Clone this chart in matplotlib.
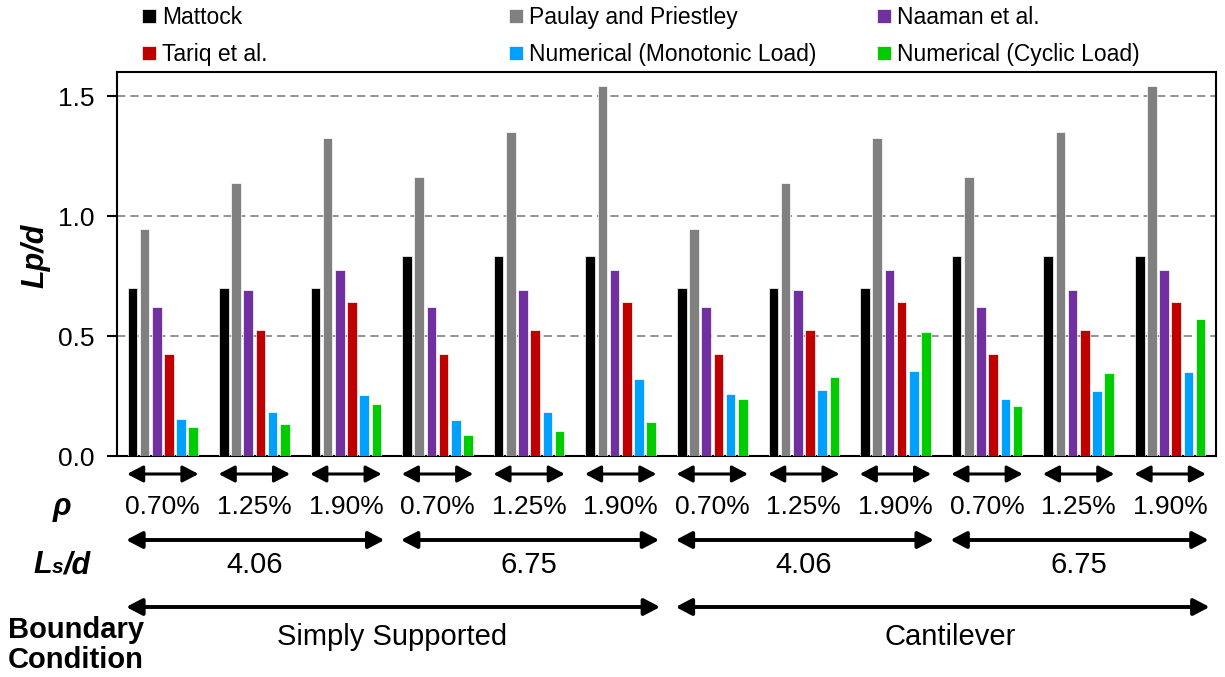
import numpy as np
import matplotlib
matplotlib.use("Agg")
import matplotlib.pyplot as plt
import matplotlib.transforms as mtransforms
from matplotlib.offsetbox import TextArea, HPacker, AnnotationBbox

plt.rcParams['font.family'] = ['Liberation Sans', 'DejaVu Sans']

series = ["Mattock", "Paulay and Priestley", "Naaman et al.",
          "Tariq et al.", "Numerical (Monotonic Load)", "Numerical (Cyclic Load)"]
colors = ["#000000", "#808080", "#7030A0", "#C00000", "#00A0FF", "#00CC00"]

rho = ["0.70%", "1.25%", "1.90%"] * 4
ls_d = ["4.06", "6.75", "4.06", "6.75"]
boundary = ["Simply Supported", "Cantilever"]

mattock = [0.70, 0.70, 0.70, 0.835, 0.835, 0.835, 0.70, 0.70, 0.70, 0.835, 0.835, 0.835]
paulay = [0.947, 1.138, 1.325, 1.164, 1.351, 1.540, 0.947, 1.138, 1.325, 1.164, 1.351, 1.540]
naaman = [0.62, 0.692, 0.775, 0.62, 0.692, 0.775, 0.62, 0.692, 0.775, 0.62, 0.692, 0.775]
tariq = [0.424, 0.524, 0.640, 0.424, 0.524, 0.640, 0.424, 0.524, 0.640, 0.424, 0.524, 0.640]
num_mono = [0.154, 0.183, 0.253, 0.149, 0.182, 0.321, 0.258, 0.276, 0.353, 0.236, 0.269, 0.350]
num_cyc = [0.121, 0.133, 0.215, 0.089, 0.103, 0.140, 0.238, 0.328, 0.515, 0.210, 0.344, 0.569]
values = [mattock, paulay, naaman, tariq, num_mono, num_cyc]

fig = plt.figure(figsize=(12.25, 6.77), dpi=100)
ax = fig.add_axes([117/1225, 1-456/677, (1216-117)/1225, (456-72)/677])

x = np.arange(len(rho))
slot = 0.133
bars = []
for i, (vals, c) in enumerate(zip(values, colors)):
    b = ax.bar(x + (i - 2.5) * slot, vals, width=0.105, color=c,
               edgecolor="white", linewidth=0.5, zorder=3)
    bars.append(b)

ax.set_xlim(-0.5, 11.5)
ax.set_ylim(0, 1.6)
ax.set_yticks([0.0, 0.5, 1.0, 1.5])
ax.set_yticklabels(["0.0", "0.5", "1.0", "1.5"], fontsize=19)
ax.set_xticks([])
ax.yaxis.grid(True, linestyle=(0, (5, 3)), color="#808080", linewidth=1.2)
ax.set_axisbelow(True)
ax.tick_params(axis="y", direction="out", length=7, width=1.5, pad=9)
for s in ax.spines.values():
    s.set_linewidth(1.5)

fig.text(35/1225, 1-256/677, "Lp/d", rotation=90, fontsize=22, fontweight="bold",
         fontstyle="italic", ha="center", va="center")

# legend: three columns placed by hand
cols_x = [142, 509, 877]
for k in range(3):
    fig.legend([bars[k], bars[k + 3]], [series[k], series[k + 3]],
               loc="upper left", bbox_to_anchor=(cols_x[k]/1225, 1-6/677),
               frameon=False, fontsize=16.5, borderpad=0, borderaxespad=0,
               handlelength=0.6, handleheight=0.6, handletextpad=0.28,
               labelspacing=0.62)

blend = mtransforms.blended_transform_factory(ax.transData, fig.transFigure)


def arrow(x0, x1, y, lw):
    ax.annotate("", xy=(x1, y), xytext=(x0, y),
                xycoords=blend, textcoords=blend,
                arrowprops=dict(arrowstyle="<|-|>,head_length=0.8,head_width=0.42",
                                lw=lw, color="black", shrinkA=0, shrinkB=0,
                                mutation_scale=12),
                annotation_clip=False)


y_rho_arrow = 1 - 474/677
y_rho_text = 1 - 507/677
y_ls_arrow = 1 - 540/677
y_ls_text = 1 - 565/677
y_bc_arrow = 1 - 607/677
y_bc_text = 1 - 637/677

for i, r in enumerate(rho):
    arrow(i - 0.39, i + 0.39, y_rho_arrow, 2.2)
    ax.text(i, y_rho_text, r, transform=blend, fontsize=19, ha="center", va="center")

for j, l in enumerate(ls_d):
    arrow(3*j - 0.4, 3*j + 2.42, y_ls_arrow, 2.8)
    ax.text(3*j + 1, y_ls_text, l, transform=blend, fontsize=21, ha="center", va="center")

for j in range(2):
    arrow(6*j - 0.4, 6*j + 5.43, y_bc_arrow, 2.8)
ax.text(2.5, y_bc_text, boundary[0], transform=blend, fontsize=21, ha="center", va="center")
ax.text(8.6, y_bc_text, boundary[1], transform=blend, fontsize=21, ha="center", va="center")

fig.text(62/1225, y_rho_text, "ρ", fontsize=22, fontweight="bold", fontstyle="italic",
         ha="center", va="center")

# Ls/d with a small "s"
bi = dict(fontweight="bold", fontstyle="italic")
pieces = [TextArea("L", textprops=dict(fontsize=22, **bi)),
          TextArea("s", textprops=dict(fontsize=15, **bi)),
          TextArea("/d", textprops=dict(fontsize=22, **bi))]
pack = HPacker(children=pieces, align="baseline", pad=0, sep=0)
fig.add_artist(AnnotationBbox(pack, (62/1225, y_ls_text), xycoords="figure fraction",
                              frameon=False, box_alignment=(0.5, 0.5), pad=0))

fig.text(8/1225, 1-645/677, "Boundary\nCondition", fontsize=21, fontweight="bold",
         ha="left", va="center", linespacing=1.12)

fig.savefig("out.png", dpi=100)
